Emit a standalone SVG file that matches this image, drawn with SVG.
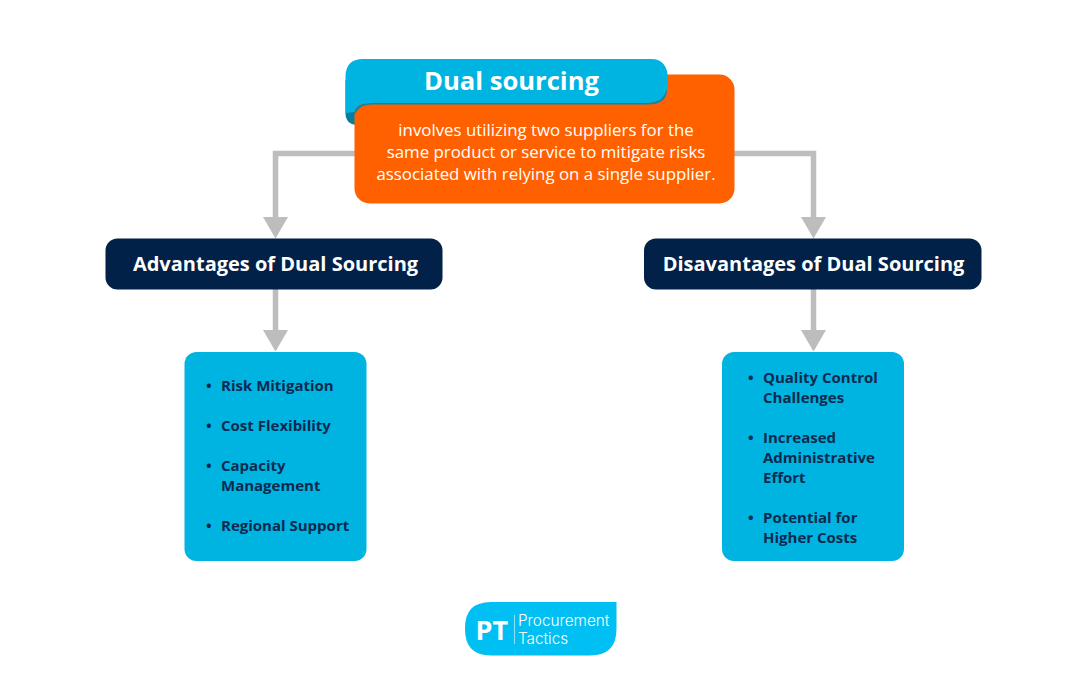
<svg xmlns="http://www.w3.org/2000/svg" width="1080" height="675" viewBox="0 0 1080 675">
<style>
.t{font-family:"Open Sans","Liberation Sans",sans-serif}
.h{font-size:20px;font-weight:700;fill:#fff;text-anchor:middle}
.d{font-size:16.850px;font-weight:500;fill:#fff;text-anchor:middle}
.l{font-size:15px;font-weight:700;fill:#0b2a4f}
.c{fill:none;stroke:#bdbdbd;stroke-width:5.500}
.a{fill:#bdbdbd}
.navy{fill:#012148}
.blue{fill:#00b4e2}
</style>
<rect width="1080" height="675" fill="#fff"/>
<g id="connectors">
<path class="c" d="M356 153.500H275.500V218"/><polygon class="a" points="263,217 288,217 275.500,238.500"/>
<path class="c" d="M732 153.500H813.500V218"/><polygon class="a" points="801,217 826,217 813.500,238.500"/>
<path class="c" d="M275.500 288V331"/><polygon class="a" points="263,330 288,330 275.500,351.500"/>
<path class="c" d="M813.500 288V331"/><polygon class="a" points="801,330 826,330 813.500,351.500"/>
</g>
<g id="dual-sourcing">
<path d="M345.500 80V113Q345.500 125 358 125H370V95Z" fill="#0a7c9c"/>
<rect x="354.500" y="74.500" width="380" height="129" rx="15" fill="#ff6100"/>
<path d="M372 103H646Q662 103 667 88Q668 105 646 104.500H372Q358 104.500 354.500 116V112Q356 103 372 103Z" fill="#0a86a8"/>
<path d="M363 59H651Q668 59 668 80Q668 103 646 103H372Q354.500 103 354.500 112L345.500 113V77Q345.500 59 363 59Z" class="blue"/>
<text class="t" x="511.500" y="90.400" font-size="25.600" font-weight="700" fill="#fff" text-anchor="middle">Dual sourcing</text>
<text class="t d" x="546" y="136.300">involves utilizing two suppliers for the</text>
<text class="t d" x="546" y="158.300">same product or service to mitigate risks</text>
<text class="t d" x="546" y="180.300">associated with relying on a single supplier.</text>
</g>
<g id="advantages-heading">
<rect class="navy" x="105.500" y="238.500" width="337" height="51" rx="12"/>
<text class="t h" x="275.500" y="270.600">Advantages of Dual Sourcing</text>
</g>
<g id="disadvantages-heading">
<rect class="navy" x="644" y="238.500" width="337.500" height="51" rx="12"/>
<text class="t h" x="813.500" y="270.600">Disavantages of Dual Sourcing</text>
</g>
<g id="advantages-list">
<rect class="blue" x="184.500" y="352" width="182" height="209" rx="12"/>
<g class="t l">
<text x="206" y="390.600">•</text><text x="221" y="390.600">Risk Mitigation</text>
<text x="206" y="430.600">•</text><text x="221" y="430.600">Cost Flexibility</text>
<text x="206" y="470.600">•</text><text x="221" y="470.600">Capacity</text>
<text x="221" y="490.600">Management</text>
<text x="206" y="530.600">•</text><text x="221" y="530.600">Regional Support</text>
</g>
</g>
<g id="disadvantages-list">
<rect class="blue" x="722" y="352" width="182" height="209" rx="12"/>
<g class="t l">
<text x="748" y="382.600">•</text><text x="763" y="382.600">Quality Control</text>
<text x="763" y="402.600">Challenges</text>
<text x="748" y="442.600">•</text><text x="763" y="442.600">Increased</text>
<text x="763" y="462.600">Administrative</text>
<text x="763" y="482.600">Effort</text>
<text x="748" y="522.600">•</text><text x="763" y="522.600">Potential for</text>
<text x="763" y="542.600">Higher Costs</text>
</g>
</g>
<g id="logo">
<path d="M491 602H616.500V629Q616.500 655.500 590 655.500H491Q465 655.500 465 629V628Q465 602 491 602Z" fill="#00c0f3"/>
<text x="475.500" y="640" font-size="27" font-weight="700" fill="#fff" font-family="Open Sans, sans-serif">PT</text>
<path d="M514.500 615V644" stroke="#fff" stroke-width="0.700" fill="none" opacity="0.800"/>
<text x="518" y="626" font-size="15.300" fill="#fff" font-family="Inter, sans-serif" font-weight="300">Procurement</text>
<text x="518" y="644" font-size="15.300" fill="#fff" font-family="Inter, sans-serif" font-weight="300">Tactics</text>
</g>
</svg>
